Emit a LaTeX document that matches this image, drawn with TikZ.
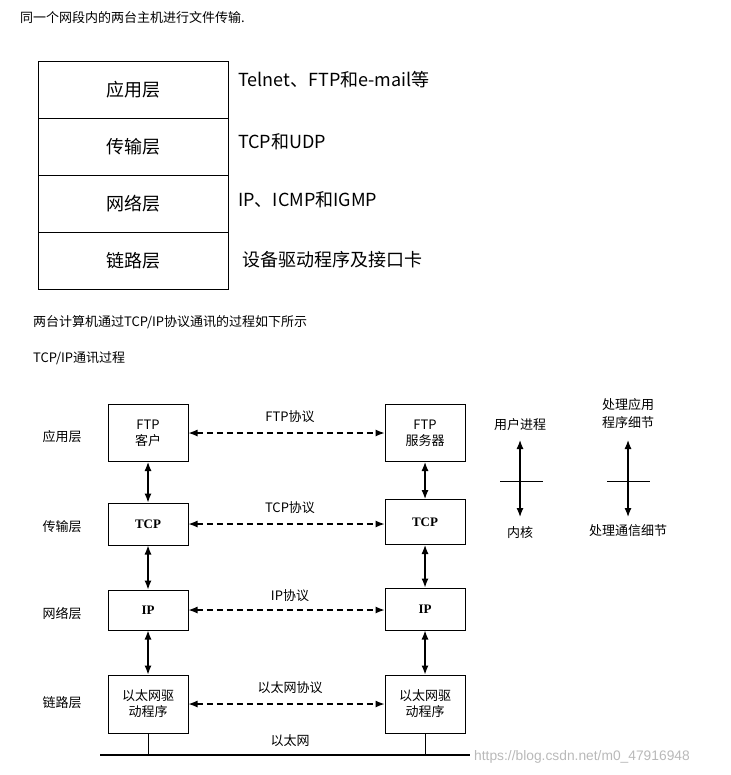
\documentclass[tikz,border=0pt]{standalone}
\usepackage{fontspec}
\setmainfont{Liberation Serif}
\newfontfamily\cjk{Noto Sans CJK SC}
\newfontfamily\wmfont{Liberation Sans}
\usetikzlibrary{arrows.meta}
\begin{document}
\begin{tikzpicture}[x=1pt,y=-1pt,
  box/.style={draw,line width=1pt,minimum width=80pt,inner sep=0pt,align=center,font=\cjk\fontsize{13}{16}\selectfont},
  lay/.style={draw,line width=1pt,minimum width=190pt,minimum height=57pt,inner sep=0pt,font=\cjk\fontsize{18}{20}\selectfont},
  txt/.style={anchor=west,inner sep=0pt,font=\cjk\fontsize{18}{20}\selectfont},
  small/.style={inner sep=0pt,align=center,font=\cjk\fontsize{13}{18}\selectfont},
  dbl/.style={line width=1.2pt,{Latex[length=9pt,width=7pt]}-{Latex[length=9pt,width=7pt]}},
  dsh/.style={line width=1.2pt,dash pattern=on 6pt off 4pt,{Latex[length=9pt,width=7pt]}-{Latex[length=9pt,width=7pt]}}]
\useasboundingbox (0,0) rectangle (730,775);
\node[anchor=west,inner sep=0pt,font=\cjk\fontsize{13}{14}\selectfont] (t1) at (20,18) {同一个网段内的两台主机进行文件传输.};
\node[lay] (l1) at (133,90) {应用层};
\node[lay] (l2) at (133,147) {传输层};
\node[lay] (l3) at (133,204) {网络层};
\node[lay] (l4) at (133,261) {链路层};
\node[txt] (r1) at (238,80) {Telnet、FTP和e-mail等};
\node[txt] (r2) at (238,142) {TCP和UDP};
\node[txt] (r3) at (238,200) {IP、ICMP和IGMP};
\node[txt] (r4) at (242,260) {设备驱动程序及接口卡};
\node[anchor=west,inner sep=0pt,font=\cjk\fontsize{13}{14}\selectfont] (t2) at (33,322) {两台计算机通过TCP/IP协议通讯的过程如下所示};
\node[anchor=west,inner sep=0pt,font=\cjk\fontsize{13}{14}\selectfont] (t3) at (33,358) {TCP/IP通讯过程};
\node[small] (a1) at (62,437) {应用层};
\node[small] (a2) at (62,527) {传输层};
\node[small] (a3) at (62,614) {网络层};
\node[small] (a4) at (62,703) {链路层};
\node[box,minimum height=57pt] (c1) at (148,433) {FTP\\客户};
\node[box,minimum height=42pt,font=\bfseries\fontsize{13}{14}\selectfont] (c2) at (148,524) {TCP};
\node[box,minimum height=40pt,font=\bfseries\fontsize{13}{14}\selectfont] (c3) at (148,610) {IP};
\node[box,minimum height=58pt] (c4) at (148,704) {以太网驱\\动程序};
\node[box,minimum height=57pt] (s1) at (425,433) {FTP\\服务器};
\node[box,minimum height=45pt,font=\bfseries\fontsize{13}{14}\selectfont] (s2) at (425,522) {TCP};
\node[box,minimum height=42pt,font=\bfseries\fontsize{13}{14}\selectfont] (s3) at (425,609) {IP};
\node[box,minimum height=58pt] (s4) at (425,704) {以太网驱\\动程序};
\draw[dbl] (c1) -- (c2); \draw[dbl] (c2) -- (c3); \draw[dbl] (c3) -- (c4);
\draw[dbl] (s1) -- (s2); \draw[dbl] (s2) -- (s3); \draw[dbl] (s3) -- (s4);
\draw[dsh] (c1.east) -- (c1.east -| s1.west);
\draw[dsh] (c2.east) -- (c2.east -| s2.west);
\draw[dsh] (c3.east) -- (c3.east -| s3.west);
\draw[dsh] (c4.east) -- (c4.east -| s4.west);
\node[small] (p1) at (290,417) {FTP协议};
\node[small] (p2) at (290,508) {TCP协议};
\node[small] (p3) at (290,596) {IP协议};
\node[small] (p4) at (290,688) {以太网协议};
\coordinate (e1) at (100,755); \coordinate (e2) at (470,755);
\draw[line width=2.5pt] (e1) -- (e2);
\draw[line width=1pt] (c4.south) -- (c4.south |- e1);
\draw[line width=1pt] (s4.south) -- (s4.south |- e1);
\node[small] (eth) at (290,741) {以太网};
\node[small] (u1) at (520,425) {用户进程};
\node[small] (u2) at (520,533) {内核};
\draw[dbl] (520,440) coordinate (ua) -- (520,517) coordinate (ub);
\coordinate (ut1) at (500,481); \coordinate (ut2) at (543,481);
\draw[line width=1pt] (ut1) -- (ut2);
\node[small] (h1) at (628,414) {处理应用\\程序细节};
\node[small] (h2) at (628,531) {处理通信细节};
\draw[dbl] (628,440) coordinate (ha) -- (628,517) coordinate (hb);
\coordinate (ht1) at (607,481); \coordinate (ht2) at (650,481);
\draw[line width=1pt] (ht1) -- (ht2);
\node[anchor=west,inner sep=0pt,text=gray!55,font=\wmfont\fontsize{13.8}{14}\selectfont] (wm) at (474,757) {https://blog.csdn.net/m0\_47916948};
\end{tikzpicture}
\end{document}
